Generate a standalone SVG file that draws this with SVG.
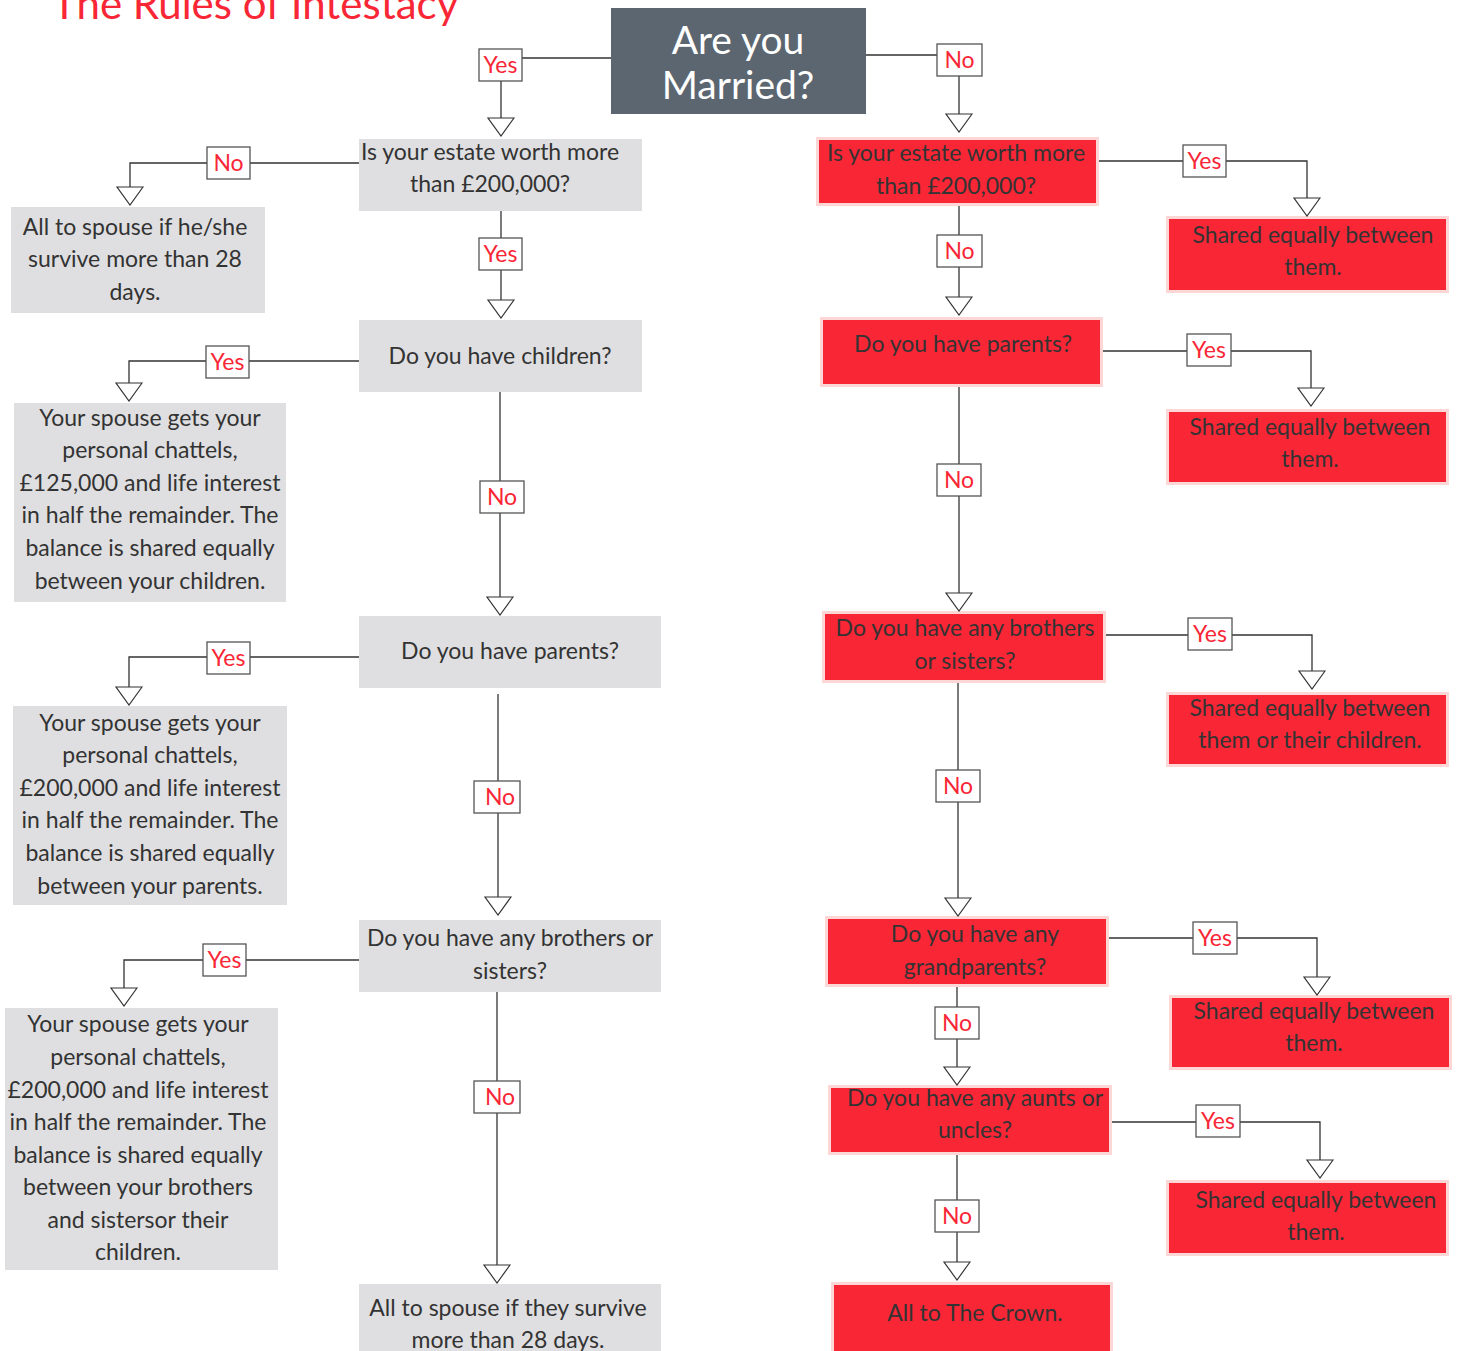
<svg xmlns="http://www.w3.org/2000/svg" width="1457" height="1351" viewBox="0 0 1457 1351">
<style>
.t{font-family:Lato,"Open Sans","Liberation Sans",sans-serif;font-size:23px;fill:#333;text-anchor:middle}
.g{fill:#dfdfe1}
.r{fill:#f92636;stroke:#fdd6d6;stroke-width:3}
.c{fill:none;stroke:#333;stroke-width:1.3;marker-end:url(#ah)}
.lb rect{fill:#fff;stroke:#555;stroke-width:1.3}
.lb text{font-family:Lato,"Open Sans","Liberation Sans",sans-serif;font-size:23px;fill:#f92636;text-anchor:middle}
</style>
<defs>
<marker id="ah" markerUnits="userSpaceOnUse" markerWidth="20" markerHeight="28" viewBox="0 0 20 28" refX="19" refY="14" orient="auto">
<path d="M1,1 L19,14 L1,27 Z" fill="#fff" stroke="#333" stroke-width="1.2"/>
</marker>
</defs>
<rect width="1457" height="1351" fill="#fff"/>
<text x="52" y="19" style="font-family:Lato,'Open Sans','Liberation Sans',sans-serif;font-size:42px;fill:#f92636">The Rules of Intestacy</text>

<g id="married">
<rect x="611" y="8" width="255" height="106" fill="#5b6670"/>
<text class="t" x="738" y="54" style="font-size:39px;fill:#fff">Are you</text>
<text class="t" x="738" y="99" style="font-size:39px;fill:#fff">Married?</text>
</g>

<g id="l-estate"><rect class="g" x="359" y="139" width="283" height="72"/>
<text class="t" x="490" y="160">Is your estate worth more</text><text class="t" x="490" y="192">than £200,000?</text></g>
<g id="l-children"><rect class="g" x="359" y="320" width="283" height="72"/>
<text class="t" x="500" y="364">Do you have children?</text></g>
<g id="l-parents"><rect class="g" x="359" y="616" width="302" height="72"/>
<text class="t" x="510" y="659">Do you have parents?</text></g>
<g id="l-siblings"><rect class="g" x="359" y="920" width="302" height="72"/>
<text class="t" x="510" y="946">Do you have any brothers or</text><text class="t" x="510" y="979">sisters?</text></g>
<g id="l-spouse28"><rect class="g" x="359" y="1284" width="302" height="70"/>
<text class="t" x="508" y="1316">All to spouse if they survive</text><text class="t" x="508" y="1348">more than 28 days.</text></g>

<g id="l-out1"><rect class="g" x="11" y="207" width="254" height="106"/>
<text class="t" x="135" y="235">All to spouse if he/she</text><text class="t" x="135" y="267">survive more than 28</text><text class="t" x="135" y="300">days.</text></g>
<g id="l-out2"><rect class="g" x="14" y="403" width="272" height="199"/>
<text class="t" x="150" y="426">Your spouse gets your</text><text class="t" x="150" y="458">personal chattels,</text><text class="t" x="150" y="491">£125,000 and life interest</text><text class="t" x="150" y="523">in half the remainder. The</text><text class="t" x="150" y="556">balance is shared equally</text><text class="t" x="150" y="589">between your children.</text></g>
<g id="l-out3"><rect class="g" x="13" y="706" width="274" height="199"/>
<text class="t" x="150" y="731">Your spouse gets your</text><text class="t" x="150" y="763">personal chattels,</text><text class="t" x="150" y="796">£200,000 and life interest</text><text class="t" x="150" y="828">in half the remainder. The</text><text class="t" x="150" y="861">balance is shared equally</text><text class="t" x="150" y="894">between your parents.</text></g>
<g id="l-out4"><rect class="g" x="5" y="1008" width="273" height="262"/>
<text class="t" x="138" y="1032">Your spouse gets your</text><text class="t" x="138" y="1065">personal chattels,</text><text class="t" x="138" y="1098">£200,000 and life interest</text><text class="t" x="138" y="1130">in half the remainder. The</text><text class="t" x="138" y="1163">balance is shared equally</text><text class="t" x="138" y="1195">between your brothers</text><text class="t" x="138" y="1228">and sistersor their</text><text class="t" x="138" y="1260">children.</text></g>

<g id="r-estate"><rect class="r" x="817.5" y="138.5" width="280" height="66"/>
<text class="t" x="956" y="161">Is your estate worth more</text><text class="t" x="956" y="194">than £200,000?</text></g>
<g id="r-parents"><rect class="r" x="821.5" y="318.5" width="280" height="67"/>
<text class="t" x="963" y="352">Do you have parents?</text></g>
<g id="r-siblings"><rect class="r" x="823.5" y="612.5" width="281" height="69"/>
<text class="t" x="965" y="636">Do you have any brothers</text><text class="t" x="965" y="669">or sisters?</text></g>
<g id="r-grandparents"><rect class="r" x="826.5" y="917.5" width="281" height="68"/>
<text class="t" x="975" y="942">Do you have any</text><text class="t" x="975" y="975">grandparents?</text></g>
<g id="r-aunts"><rect class="r" x="829.5" y="1086.5" width="281" height="67"/>
<text class="t" x="975" y="1106">Do you have any aunts or</text><text class="t" x="975" y="1138">uncles?</text></g>
<g id="r-crown"><rect class="r" x="832.5" y="1283.5" width="279" height="70"/>
<text class="t" x="975" y="1321">All to The Crown.</text></g>

<g id="r-out1"><rect class="r" x="1167.5" y="217.5" width="280" height="74"/>
<text class="t" x="1313" y="243">Shared equally between</text><text class="t" x="1313" y="275">them.</text></g>
<g id="r-out2"><rect class="r" x="1167.5" y="410.5" width="280" height="73"/>
<text class="t" x="1310" y="435">Shared equally between</text><text class="t" x="1310" y="467">them.</text></g>
<g id="r-out3"><rect class="r" x="1167.5" y="693.5" width="280" height="72"/>
<text class="t" x="1310" y="716">Shared equally between</text><text class="t" x="1310" y="748">them or their children.</text></g>
<g id="r-out4"><rect class="r" x="1170.5" y="996.5" width="280" height="72"/>
<text class="t" x="1314" y="1019">Shared equally between</text><text class="t" x="1314" y="1051">them.</text></g>
<g id="r-out5"><rect class="r" x="1167.5" y="1181.5" width="280" height="73"/>
<text class="t" x="1316" y="1208">Shared equally between</text><text class="t" x="1316" y="1240">them.</text></g>

<g id="connectors">
<path class="c" d="M611,58 H501 V136"/>
<path class="c" d="M866,55 H959 V132"/>
<path class="c" d="M359,163 H130 V205"/>
<path class="c" d="M501,211 V318"/>
<path class="c" d="M359,361 H129 V401"/>
<path class="c" d="M500,392 V615"/>
<path class="c" d="M359,657 H129 V705"/>
<path class="c" d="M498,694 V915"/>
<path class="c" d="M359,960 H124 V1006"/>
<path class="c" d="M497,992 V1283"/>
<path class="c" d="M1099,161 H1307 V216"/>
<path class="c" d="M959,206 V315"/>
<path class="c" d="M1103,351 H1311 V406"/>
<path class="c" d="M959,387 V611"/>
<path class="c" d="M1106,635 H1312 V689"/>
<path class="c" d="M958,683 V916"/>
<path class="c" d="M1109,938 H1317 V995"/>
<path class="c" d="M957,987 V1085"/>
<path class="c" d="M1112,1122 H1320 V1178"/>
<path class="c" d="M957,1155 V1280"/>
<g class="lb">
<rect x="479" y="49" width="43" height="32"/><text x="500.5" y="73">Yes</text>
<rect x="937" y="44" width="45" height="32"/><text x="959.5" y="68">No</text>
<rect x="207" y="147" width="43" height="32"/><text x="228.5" y="171">No</text>
<rect x="479" y="238" width="43" height="32"/><text x="500.5" y="262">Yes</text>
<rect x="206" y="346" width="43" height="32"/><text x="227.5" y="370">Yes</text>
<rect x="480" y="481" width="44" height="32"/><text x="502" y="505">No</text>
<rect x="207" y="642" width="43" height="32"/><text x="228.5" y="666">Yes</text>
<rect x="474" y="781" width="46" height="32"/><text x="500" y="805">No</text>
<rect x="203" y="944" width="43" height="32"/><text x="224.5" y="968">Yes</text>
<rect x="474" y="1081" width="46" height="32"/><text x="500" y="1105">No</text>
<rect x="1183" y="145" width="43" height="32"/><text x="1204.5" y="169">Yes</text>
<rect x="937" y="235" width="45" height="32"/><text x="959.5" y="259">No</text>
<rect x="1187" y="334" width="44" height="32"/><text x="1209" y="358">Yes</text>
<rect x="937" y="464" width="44" height="32"/><text x="959" y="488">No</text>
<rect x="1188" y="618" width="44" height="32"/><text x="1210" y="642">Yes</text>
<rect x="936" y="770" width="44" height="32"/><text x="958" y="794">No</text>
<rect x="1193" y="922" width="44" height="32"/><text x="1215" y="946">Yes</text>
<rect x="935" y="1007" width="44" height="32"/><text x="957" y="1031">No</text>
<rect x="1196" y="1105" width="44" height="32"/><text x="1218" y="1129">Yes</text>
<rect x="935" y="1200" width="44" height="32"/><text x="957" y="1224">No</text>
</g>
</g>
</svg>
